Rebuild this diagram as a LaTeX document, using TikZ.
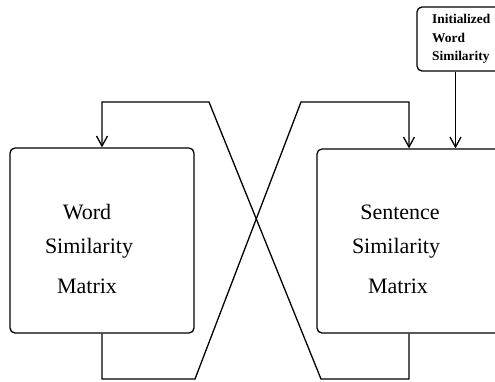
\documentclass[tikz,border=0pt]{standalone}
\usepackage{fontspec}
\setmainfont{Liberation Serif}
\usetikzlibrary{arrows.meta}
\begin{document}
\begin{tikzpicture}[x=1pt,y=-1pt,
  box/.style={draw,line width=1.3pt,rounded corners=5pt,inner sep=0pt},
  big/.style={font=\fontsize{22}{25}\selectfont,inner sep=0pt},
  small/.style={font=\fontsize{13.4}{16}\selectfont\bfseries,inner sep=0pt,anchor=west},
  arr/.style={line width=1.3pt,-{Straight Barb[length=10pt,width=11pt,line width=1.3pt]}}]
\useasboundingbox (0,0) rectangle (495,381);
\clip (0,0) rectangle (495,381);
% boxes
\node[box,minimum width=184pt,minimum height=185pt] (L) at (102,240.5) {};
\node[box,minimum width=184pt,minimum height=184pt] (R) at (409,241) {};
\node[box,minimum width=86pt,minimum height=64pt] (I) at (460,39) {};
% texts
\node[big] (l1) at (87,212) {Word};
\node[big] (l2) at (89,248) {Similarity};
\node[big] (l3) at (87,286) {Matrix};
\node[big] (r1) at (400,212) {Sentence};
\node[big] (r2) at (396,248) {Similarity};
\node[big] (r3) at (398,286) {Matrix};
\node[small] (i1) at (432,19) {Initialized};
\node[small] (i2) at (432,38) {Word};
\node[small] (i3) at (432,57) {Similarity};
% connectors
\coordinate (a1) at (195,379);
\coordinate (a2) at (301,102);
\coordinate (b1) at (321,379);
\coordinate (b2) at (209,102);
\draw[arr,line join=miter] (L.south) |- (a1) -- (a2) -| (R.north);
\draw[arr,line join=miter] (R.south) |- (b1) -- (b2) -| (L.north);
\draw[arr] ([xshift=-4.5pt]I.south) -- ([xshift=-4.5pt]I.south |- R.north);
\end{tikzpicture}
\end{document}
